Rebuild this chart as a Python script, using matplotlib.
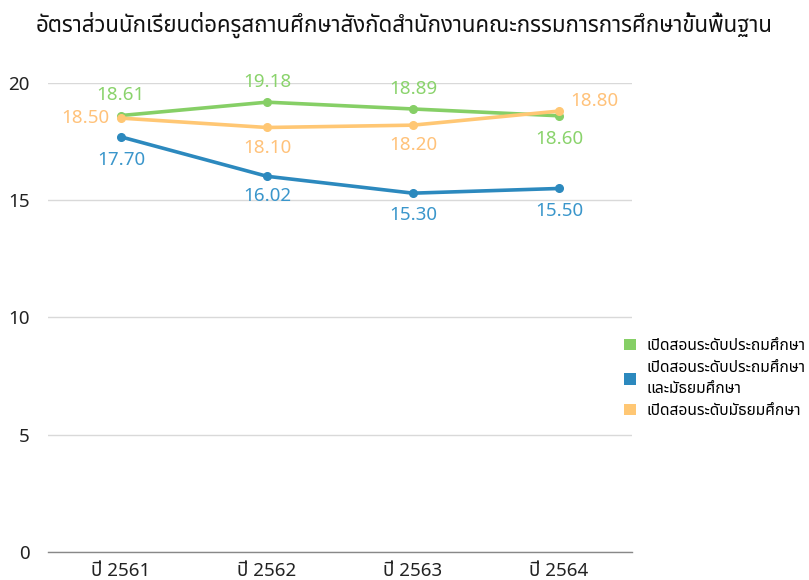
import matplotlib
matplotlib.use('Agg')
import matplotlib.pyplot as plt
from matplotlib.patches import Patch

plt.rcParams['font.family'] = ['Noto Sans Thai', 'DejaVu Sans']

categories = ['ปี 2561', 'ปี 2562', 'ปี 2563', 'ปี 2564']
series_names = ['เปิดสอนระดับประถมศึกษา', 'เปิดสอนระดับประถมศึกษา\nและมัธยมศึกษา', 'เปิดสอนระดับมัธยมศึกษา']
primary = [18.61, 19.18, 18.89, 18.60]
primary_secondary = [17.70, 16.02, 15.30, 15.50]
secondary = [18.50, 18.10, 18.20, 18.80]
title = 'อัตราส่วนนักเรียนต่อครูสถานศึกษาสังกัดสำนักงานคณะกรรมการการศึกษาขั้นพื้นฐาน'

colors = ['#86CF66', '#2C89BE', '#FFC774']
label_colors = ['#8AD36C', '#3A96CB', '#FFC27A']

fig = plt.figure(figsize=(8.09, 5.8), dpi=100)
ax = fig.add_axes([0.0593, 0.0483, 0.7218, 0.8087])

x = list(range(len(categories)))
all_series = [primary, primary_secondary, secondary]
for vals, c, name in zip(all_series, colors, series_names):
    ax.plot(x, vals, color=c, lw=2.6, marker='o', ms=5.5, label=name, solid_capstyle='round')

# label offsets (points): (dx, dy, ha, va)
offsets = [
    [(0, 8, 'center', 'bottom'), (0, 8, 'center', 'bottom'), (0, 8, 'center', 'bottom'), (0, -10, 'center', 'top')],
    [(0, -10, 'center', 'top'), (0, -8, 'center', 'top'), (0, -9.5, 'center', 'top'), (0, -10, 'center', 'top')],
    [(-8, 0, 'right', 'center'), (0, -8, 'center', 'top'), (0, -8, 'center', 'top'), (8.5, 7.5, 'left', 'center')],
]
for vals, lc, offs in zip(all_series, label_colors, offsets):
    for xi, v, (dx, dy, ha, va) in zip(x, vals, offs):
        ax.annotate(f'{v:.2f}', (xi, v), xytext=(dx, dy), textcoords='offset points',
                    ha=ha, va=va, color=lc, fontsize=13.5)

ax.set_xlim(-0.5, 3.5)
ax.set_ylim(0, 20)
ax.set_yticks([0, 5, 10, 15, 20])
ax.set_xticks(x)
ax.set_xticklabels(categories)
ax.tick_params(axis='both', length=0, labelsize=13.5, colors='#222222')
ax.tick_params(axis='y', pad=13)
ax.tick_params(axis='x', pad=7)
ax.grid(axis='y', color='#D9D9D9', lw=1)
ax.set_axisbelow(True)
for s in ['top', 'right', 'left']:
    ax.spines[s].set_visible(False)
ax.spines['bottom'].set_color('#888888')
ax.spines['bottom'].set_linewidth(1)

fig.text(0.5, 0.957, title, ha='center', va='center', fontsize=16.0, color='#111111')

handles = [Patch(facecolor=c, edgecolor='none') for c in colors]
leg = ax.legend(handles, series_names, loc='center left', bbox_to_anchor=(0.987, 0.37), frameon=False,
                handlelength=0.72, handleheight=0.72, handletextpad=0.7, fontsize=11.2,
                labelspacing=0.4, borderaxespad=0, borderpad=0)
for t in leg.get_texts():
    t.set_linespacing(1.4)

fig.savefig('out.png', dpi=100)
